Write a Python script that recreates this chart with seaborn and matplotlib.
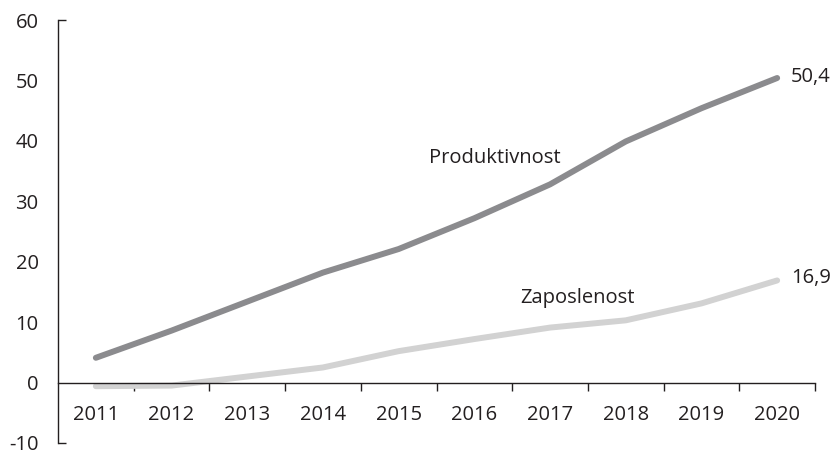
import pandas as pd
import matplotlib.pyplot as plt
import seaborn as sns

# Data
years = ['2011', '2012', '2013', '2014', '2015', '2016', '2017', '2018', '2019', '2020']
produktivnost = [4.1, 8.6, 13.4, 18.2, 22.1, 27.2, 32.8, 39.9, 45.4, 50.4]
zaposlenost = [-0.6, -0.5, 1.0, 2.5, 5.2, 7.2, 9.1, 10.3, 13.1, 16.9]
y_ticks = [-10, 0, 10, 20, 30, 40, 50, 60]

df = pd.DataFrame({'Leto': years, 'Produktivnost': produktivnost, 'Zaposlenost': zaposlenost})

sns.set_style('white')
plt.rcParams['font.family'] = ['Open Sans', 'DejaVu Sans']

fs = 14.5
ink = '#231f20'

fig = plt.figure(figsize=(8.38, 4.5), dpi=100)
ax = fig.add_axes([58 / 838, 7 / 450, 757 / 838, 423 / 450])

sns.lineplot(data=df, x='Leto', y='Zaposlenost', color='#d2d2d2', linewidth=4.3, ax=ax)
sns.lineplot(data=df, x='Leto', y='Produktivnost', color='#8b8b8e', linewidth=4.3, ax=ax)

ax.set_xlim(-0.5, len(years) - 0.5)
ax.set_ylim(-10, 60)
ax.set_xlabel('')
ax.set_ylabel('')

# Spines: left axis and x axis on zero line
for s in ['top', 'right']:
    ax.spines[s].set_visible(False)
ax.spines['bottom'].set_position(('data', 0))
for s in ['left', 'bottom']:
    ax.spines[s].set_color(ink)
    ax.spines[s].set_linewidth(1.0)

ax.tick_params(which='both', bottom=True, left=True)
ax.xaxis.remove_overlapping_locs = False
ax.yaxis.remove_overlapping_locs = False

# y ticks: labels everywhere, marks only at the ends
ax.set_yticks(y_ticks)
ax.set_yticklabels([str(v) for v in y_ticks])
ax.tick_params(axis='y', which='major', length=0, pad=14, labelsize=fs, labelcolor=ink)
ax.set_yticks([-10, 60], minor=True)
ax.tick_params(axis='y', which='minor', direction='in', length=6, width=1.0, color=ink)

# x ticks: labels at centres, tick marks between categories
ax.set_xticks(range(len(years)))
ax.set_xticklabels(years)
ax.tick_params(axis='x', which='major', length=0, pad=16, labelsize=fs, labelcolor=ink)
ax.set_xticks([i + 0.5 for i in range(len(years))], minor=True)
ax.tick_params(axis='x', which='minor', direction='out', length=6, width=1.0, color=ink)

# Series labels
ax.text(4.4, 37.2, 'Produktivnost', fontsize=fs, color=ink, ha='left', va='center')
ax.text(5.6, 14.0, 'Zaposlenost', fontsize=fs, color=ink, ha='left', va='center')
ax.text(9.18, produktivnost[-1] + 0.1, '50,4', fontsize=fs, color=ink, ha='left', va='center')
ax.text(9.18, zaposlenost[-1] + 0.4, '16,9', fontsize=fs, color=ink, ha='left', va='center')

fig.savefig('out.png', dpi=100)
